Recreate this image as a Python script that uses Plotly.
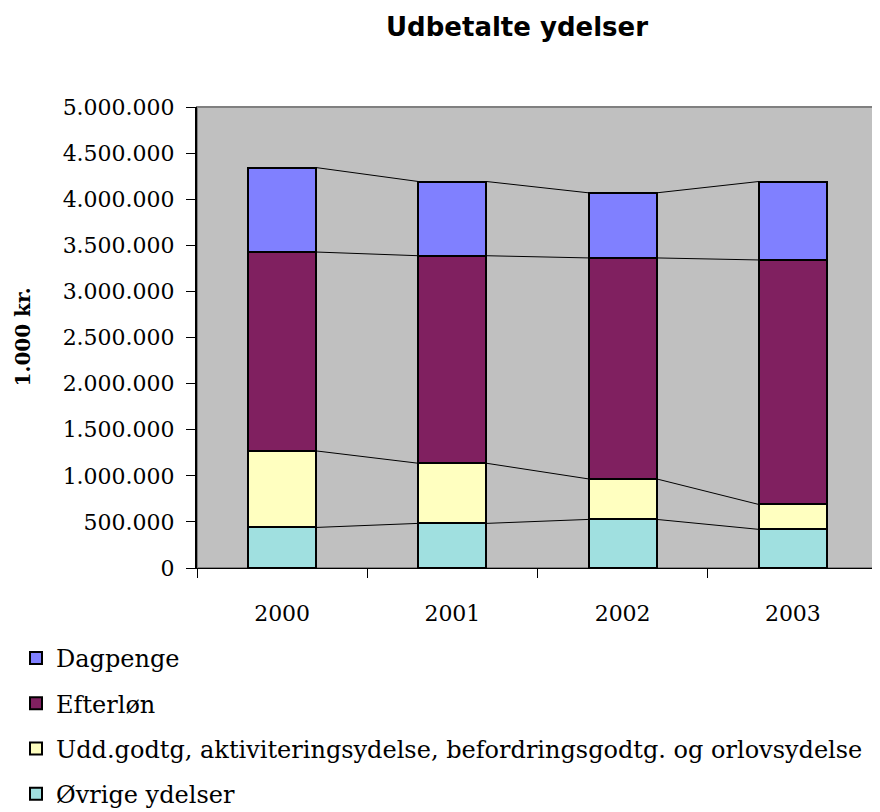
import plotly.graph_objects as go

years = ["2000", "2001", "2002", "2003"]
ovrige = [440000, 484000, 527000, 419000]
udd = [830000, 652000, 439000, 270000]
efterlon = [2157000, 2251000, 2397000, 2652000]
dagpenge = [916000, 805000, 706000, 851000]

series = [
    ("Øvrige ydelser", ovrige, "#A0E0E0", 4),
    ("Udd.godtg, aktiviteringsydelse, befordringsgodtg. og orlovsydelse", udd, "#FFFFC0", 3),
    ("Efterløn", efterlon, "#802060", 2),
    ("Dagpenge", dagpenge, "#8080FF", 1),
]

xpos = list(range(len(years)))
bar_w = 0.4
serif = "DejaVu Serif"

fig = go.Figure()
cum = [0] * len(years)
levels = []
for name, vals, col, rank in series:
    fig.add_trace(go.Bar(
        x=xpos, y=vals, name=name, width=bar_w,
        marker=dict(color=col, line=dict(color="black", width=2)),
        legendgroup=name, legendrank=rank,
    ))
    cum = [c + v for c, v in zip(cum, vals)]
    levels.append(list(cum))

# series lines connecting stack levels
for lv in levels:
    lx, ly = [], []
    for i in range(len(years) - 1):
        lx += [xpos[i] + bar_w / 2, xpos[i + 1] - bar_w / 2, None]
        ly += [lv[i], lv[i + 1], None]
    fig.add_trace(go.Scatter(x=lx, y=ly, mode="lines", line=dict(color="black", width=1),
                             showlegend=False, hoverinfo="skip"))

W, H = 872, 804  # page body margin of 8px shifts the figure
L, R, T, B = 189, 2, 99, 244
pw = W - L - R

fig.update_layout(
    width=W, height=H,
    margin=dict(l=L, r=R, t=T, b=B, autoexpand=False),
    barmode="stack",
    separators=",.",
    paper_bgcolor="white",
    plot_bgcolor="#C0C0C0",
    font=dict(family=serif, color="black", size=22),
    title=dict(text="<b>Udbetalte ydelser</b>", x=509 / W, xanchor="center", xref="container",
               y=1 - 19 / H, yanchor="middle", yref="container",
               font=dict(family="DejaVu Sans", size=26, color="black")),
    xaxis=dict(range=[-0.5, 3.5], tickmode="array", tickvals=xpos, ticktext=years,
               ticks="", showgrid=False, zeroline=False, showline=True, linecolor="black", linewidth=1,
               ticklabelstandoff=26, automargin=False,
               minor=dict(tickmode="array", tickvals=[i - 0.5 for i in range(len(years) + 1)],
                          ticks="outside", ticklen=9, tickcolor="black", tickwidth=1, showgrid=False),
               tickfont=dict(size=22)),
    yaxis=dict(range=[0, 5000000], dtick=500000, tick0=0, tickformat=",d",
               ticks="outside", ticklen=9, tickcolor="black", showgrid=False, zeroline=False,
               showline=True, linecolor="black", linewidth=2, ticklabelstandoff=7, automargin=False,
               tickfont=dict(size=22)),
    legend=dict(xref="container", yref="container", x=8 / W, y=1 - 628 / H,
                xanchor="left", yanchor="top", traceorder="grouped", tracegroupgap=11,
                font=dict(family=serif, size=24), bgcolor="rgba(0,0,0,0)"),
    shapes=[dict(type="rect", xref="paper", yref="paper", x0=0, x1=1, y0=0, y1=1,
                 line=dict(color="#808080", width=2), fillcolor="rgba(0,0,0,0)", layer="below")],
    annotations=[dict(text="<b>1.000 kr.</b>", textangle=-90, xref="paper", yref="paper",
                      x=(14 - L) / pw, y=0.5, xanchor="center", yanchor="middle", showarrow=False,
                      font=dict(family=serif, size=20, color="black"))],
)

fig.write_html("out.html")
